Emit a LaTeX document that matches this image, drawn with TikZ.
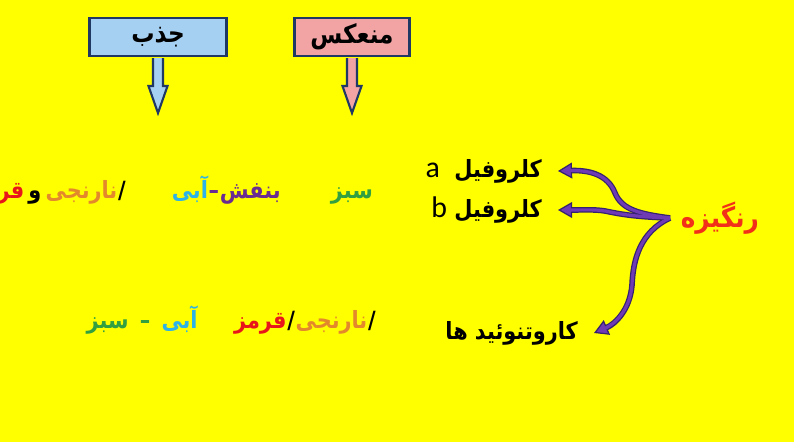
\documentclass[tikz,border=0pt]{standalone}
\usepackage{fontspec}
\usepackage{tikz}
\usetikzlibrary{calc,arrows.meta}
\TeXXeTstate=1
\setmainfont{Carlito}
\newfontfamily\fa[Script=Arabic,FakeStretch=0.88]{DejaVu Sans}

\definecolor{bgyellow}{HTML}{FFFF00}
\definecolor{boxline}{HTML}{1F3864}
\definecolor{absorbfill}{HTML}{A6D0F2}
\definecolor{reflectfill}{HTML}{F2A3A3}
\definecolor{curvedark}{HTML}{35216E}
\definecolor{curvepurple}{HTML}{6F3BB5}
\definecolor{wgreen}{HTML}{32A041}
\definecolor{wblue}{HTML}{2DB3E8}
\definecolor{wpurple}{HTML}{6A2C91}
\definecolor{worange}{HTML}{E3892B}
\definecolor{wred}{HTML}{E8161B}
\definecolor{wpigment}{HTML}{F2301A}

\newcommand\latinletter[1]{\beginL{\mdseries\fontspec{Carlito}\fontsize{17}{19}\selectfont #1}\endL}

\tikzset{
    titlebox/.style={draw=boxline, line width=1.2pt, minimum height=0.76cm, inner sep=0pt, font=\fa\bfseries\fontsize{15}{17}\selectfont},
    blockarrow/.style={draw=boxline, line width=1.2pt, line join=miter},
    colorword/.style={inner sep=0pt, font=\fa\bfseries\fontsize{13.5}{15}\selectfont},
    pigmentword/.style={inner sep=0pt, font=\fa\bfseries\fontsize{16}{18}\selectfont},
    curveout/.style={draw=curvedark, line width=3.2pt, -{Triangle[length=8pt,width=9pt,fill=curvepurple,line width=0.7pt]}},
    curvein/.style={draw=curvepurple, line width=1.8pt, shorten >=7pt}
}

\begin{document}
\begin{tikzpicture}[x=0.02cm,y=-0.02cm]
    % Background
    \fill[bgyellow] (0,0) rectangle (794,442);
    \useasboundingbox (0,0) rectangle (794,442);

    % Header boxes
    \node[titlebox, fill=absorbfill, minimum width=2.74cm] (absorb) at (158,37) {جذب};
    \node[titlebox, fill=reflectfill, minimum width=2.30cm] (reflect) at (352,37) {منعکس};

    % Block arrows under the boxes
    \foreach \b/\c in {absorb/absorbfill, reflect/reflectfill}{
        \draw[blockarrow, fill=\c] (\b.south) ++(-5,1) -- ++(0,28) -- ++(-4.5,0) -- ++(9.5,27) -- ++(9.5,-27) -- ++(-4.5,0) -- ++(0,-28);
    }

    % First row of colours (right to left)
    \node[colorword, text=wgreen, anchor=base] (green1) at (352,198) {سبز};
    \node[colorword, text=wpurple, anchor=base east] (violet) at (281,198) {بنفش};
    \node[colorword, text=wpurple, anchor=base east] (dash1) at (violet.base west) {–};
    \node[colorword, text=wblue, anchor=base east] (sky1) at (dash1.base west) {آبی};
    \node[colorword, anchor=base east] (slash1) at (126,198) {/};
    \node[colorword, text=worange, anchor=base east] (orange1) at (slash1.base west) {نارنجی};
    \node[colorword, anchor=base east, inner xsep=2pt] (and1) at (orange1.base west) {و};
    \node[colorword, text=wred, anchor=base east] (red1) at (and1.base west) {قرمز};

    % Second row of colours (right to left)
    \node[colorword, anchor=base east] (slash2) at (376,328) {/};
    \node[colorword, text=worange, anchor=base east] (orange2) at (slash2.base west) {نارنجی};
    \node[colorword, anchor=base east] (slash3) at (orange2.base west) {/};
    \node[colorword, text=wred, anchor=base east] (red2) at (slash3.base west) {قرمز};
    \node[colorword, text=wblue, anchor=base east] (sky2) at (198,328) {آبی};
    \node[colorword, text=wgreen, anchor=base east, inner xsep=6pt] (dash2) at (sky2.base west) {–};
    \node[colorword, text=wgreen, anchor=base east] (green2) at (dash2.base west) {سبز};

    % Pigments
    \node[colorword, anchor=east, inner xsep=9pt] (chla) at (558,171) {\beginR کلروفیل\ \ \latinletter{a}\endR};
    \node[colorword, anchor=east, inner xsep=9pt] (chlb) at (558,210) {\beginR کلروفیل \latinletter{b}\endR};
    \node[colorword, anchor=east, inner xsep=9pt] (carot) at (594,333) {\beginR کاروتنوئید ها\endR};
    \node[pigmentword, text=wpigment, anchor=west, inner xsep=6pt] (pigment) at (670,218) {رنگیزه};

    % Curved arrows: dark outline first
    \draw[curveout] (pigment.west) .. controls (640,214) and (622,210) .. (615,193) .. controls (608,175) and (590,170) .. (chla.east);
    \draw[curveout] (pigment.west) .. controls (640,217) and (625,215) .. (610,212) .. controls (598,209) and (585,210) .. (chlb.east);
    \draw[curveout] (pigment.west) .. controls (640,232) and (633,260) .. (632,285) .. controls (630,310) and (615,324) .. (carot.east);
    % then purple inside
    \draw[curvein] (pigment.west) .. controls (640,214) and (622,210) .. (615,193) .. controls (608,175) and (590,170) .. (chla.east);
    \draw[curvein] (pigment.west) .. controls (640,217) and (625,215) .. (610,212) .. controls (598,209) and (585,210) .. (chlb.east);
    \draw[curvein] (pigment.west) .. controls (640,232) and (633,260) .. (632,285) .. controls (630,310) and (615,324) .. (carot.east);
\end{tikzpicture}
\end{document}
